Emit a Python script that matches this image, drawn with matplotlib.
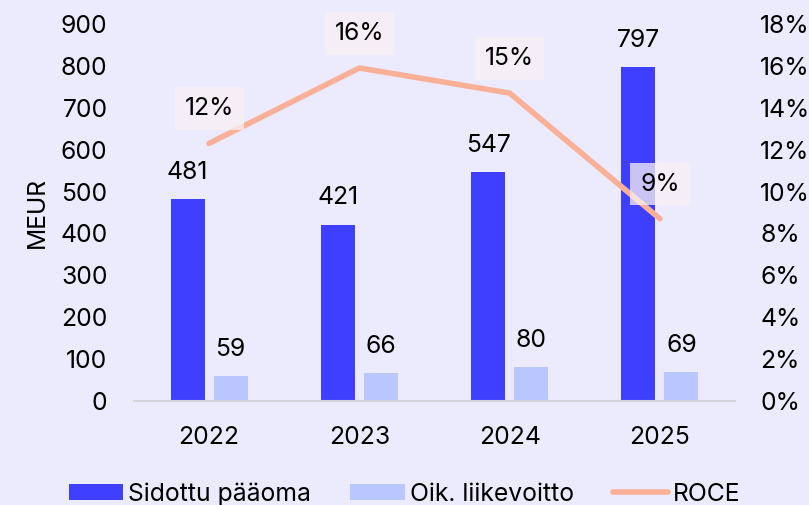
import matplotlib
matplotlib.use("Agg")
import matplotlib.pyplot as plt
import numpy as np

plt.rcParams['font.family'] = ['Inter', 'DejaVu Sans']

# data
years = ["2022", "2023", "2024", "2025"]
sidottu = [481, 421, 547, 797]
liikevoitto = [59, 66, 80, 69]
roce = [12.3, 15.9, 14.7, 8.7]
roce_labels = ["12%", "16%", "15%", "9%"]

bg = "#ECEAFD"
dark = "#3F3FFF"
light = "#B9C6FF"
salmon = "#FAB096"
fs = 17.8

fig = plt.figure(figsize=(8.09, 5.05), dpi=100, facecolor=bg)
ax = fig.add_axes([0.1656, 0.206, 0.743, 0.7465])
ax.set_facecolor(bg)
ax2 = ax.twinx()

x = np.arange(len(years))
w = 0.227
off = 0.143
b1 = ax.bar(x - off, sidottu, w, color=dark, label="Sidottu pääoma")
b2 = ax.bar(x + off, liikevoitto, w, color=light, label="Oik. liikevoitto")
ax.bar_label(b1, padding=11, fontsize=fs)
ax.bar_label(b2, padding=11, fontsize=fs)

ax.set_xlim(-0.5, 3.5)
ax.set_ylim(0, 900)
ax.set_yticks(range(0, 901, 100))
ax.set_xticks(x)
ax.set_xticklabels(years)
ax.set_ylabel("MEUR", fontsize=fs, labelpad=8)

ln, = ax2.plot(x, roce, color=salmon, lw=4, solid_capstyle="round", label="ROCE")
ax2.set_ylim(0, 18)
ax2.set_yticks(range(0, 19, 2))
ax2.set_yticklabels([f"{v}%" for v in range(0, 19, 2)])
for xi, yi, t in zip(x, roce, roce_labels):
    ax2.annotate(t, (xi, yi), xytext=(0, 25), textcoords="offset points",
                 ha="center", va="center", fontsize=fs,
                 bbox=dict(boxstyle="square,pad=0.4", fc="#FAF0F3", ec="none", alpha=0.75))

for a in (ax, ax2):
    for s in a.spines.values():
        s.set_visible(False)
    a.tick_params(length=0, labelsize=fs)
ax.spines["bottom"].set_visible(True)
ax.spines["bottom"].set_color("#D4D4DC")
ax.spines["bottom"].set_linewidth(1.5)
ax.tick_params(axis="y", pad=19)
ax.tick_params(axis="x", pad=18)
ax2.tick_params(axis="y", pad=18)

fig.legend([b1, b2, ln], ["Sidottu pääoma", "Oik. liikevoitto", "ROCE"],
           loc="center", bbox_to_anchor=(0.5, 0.022), ncol=3, frameon=False,
           fontsize=fs, handlelength=2.2, handletextpad=0.2, columnspacing=1.6,
           handleheight=0.65)

fig.savefig("out.png", dpi=100, facecolor=bg)
